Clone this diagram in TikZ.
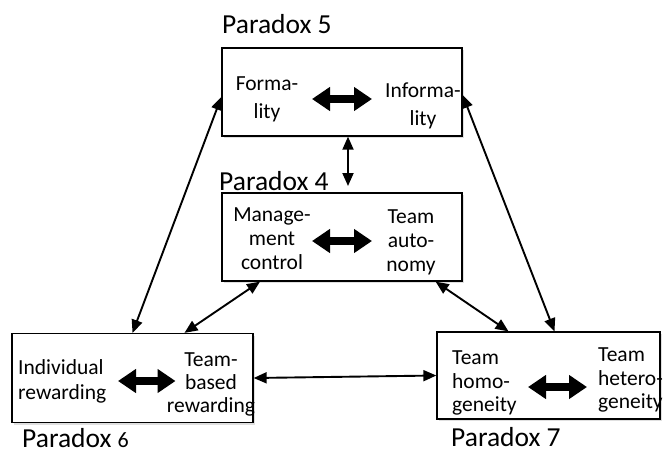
\documentclass[tikz,border=0pt]{standalone}
\usepackage{fontspec}
\setmainfont{Carlito}
\usetikzlibrary{arrows.meta,shadows}
\tikzset{
  box/.style={draw,line width=1.3pt,minimum width=240pt,minimum height=88pt,fill=white,
    drop shadow={opacity=0.25,shadow xshift=1.5pt,shadow yshift=-2pt}},
  word/.style={inner sep=0pt,font=\fontsize{21.5}{24}\selectfont},
  title/.style={anchor=base west,inner sep=0pt,font=\fontsize{27.5}{30}\selectfont},
  link/.style={line width=1.9pt,{Triangle[length=13pt,width=11pt]}-{Triangle[length=13pt,width=11pt]}},
  pull/.style={line width=7.5pt,{Triangle[length=18pt,width=23pt]}-{Triangle[length=18pt,width=23pt]}},
}

\begin{document}
\begin{tikzpicture}[x=1pt,y=-1pt]
  \useasboundingbox (0,0) rectangle (664,459);
  \node (p5) at (342,92) [box] {};
  \node (p4) at (342,237) [box] {};
  \node (p6) at (132.5,378) [box,minimum width=241pt,minimum height=89pt] {};
  \node (p7) at (548.5,375.5) [box,minimum width=223pt,minimum height=87pt] {};
  \node (t5) at (222,33) [title] {Paradox 5};
  \node (t4) at (219,190) [title] {Paradox 4};
  \node (t6) at (22,447) [title] {Paradox {\fontsize{22}{24}\selectfont 6}};
  \node (t7) at (451,446) [title] {Paradox 7};
  \node (f5) at (267,99.5) [word,align=center,font=\fontsize{21.5}{27.5}\selectfont] {Forma-\\lity};
  \node (i5) at (423,106) [word,align=center,font=\fontsize{21.5}{27.5}\selectfont] {Informa-\\lity};
  \node (m4) at (272,239) [word,align=center] {Manage-\\ment\\control};
  \node (a4) at (411,242) [word,align=center] {Team\\auto-\\nomy};
  \node (r6) at (18,381.5) [word,align=left,anchor=west,font=\fontsize{21.5}{25}\selectfont] {Individual\\rewarding};
  \node (b6) at (211,384.5) [word,align=center,font=\fontsize{21.5}{23}\selectfont] {Team-\\based\\rewarding};
  \node (h7) at (452,383) [word,align=left,anchor=west,font=\fontsize{21.5}{23.5}\selectfont] {Team\\homo-\\geneity};
  \node (e7) at (598,380) [word,align=left,anchor=west,font=\fontsize{21.5}{23.5}\selectfont] {Team\\hetero-\\geneity};
  % pulls inside each paradox
  \draw[pull] ([xshift=-30pt,yshift=-7pt]p5.center) -- ([xshift=30pt,yshift=-7pt]p5.center);
  \draw[pull] ([xshift=-30pt,yshift=-4pt]p4.center) -- ([xshift=30pt,yshift=-4pt]p4.center);
  \draw[pull] ([xshift=-14.5pt,yshift=-3pt]p6.center) -- ([xshift=43pt,yshift=-3pt]p6.center);
  \draw[pull] ([xshift=-20.5pt,yshift=-11.5pt]p7.center) -- ([xshift=38.5pt,yshift=-11.5pt]p7.center);
  % links between paradoxes
  \coordinate (v4) at (348,186);
  \draw[link] ([xshift=6pt]p5.south) -- (v4);
  \draw[link] (p6.north) -- ([yshift=-5pt]p5.west);
  \draw[link] ([xshift=52pt]p6.north) -- ([xshift=-82pt]p4.south);
  \draw[link] ([yshift=-3pt]p5.east) -- ([xshift=6pt]p7.north);
  \draw[link] ([xshift=-27pt]p4.south east) -- ([xshift=-40pt]p7.north);
  \draw[link] (p6.east) -- (p7.west);
\end{tikzpicture}
\end{document}
